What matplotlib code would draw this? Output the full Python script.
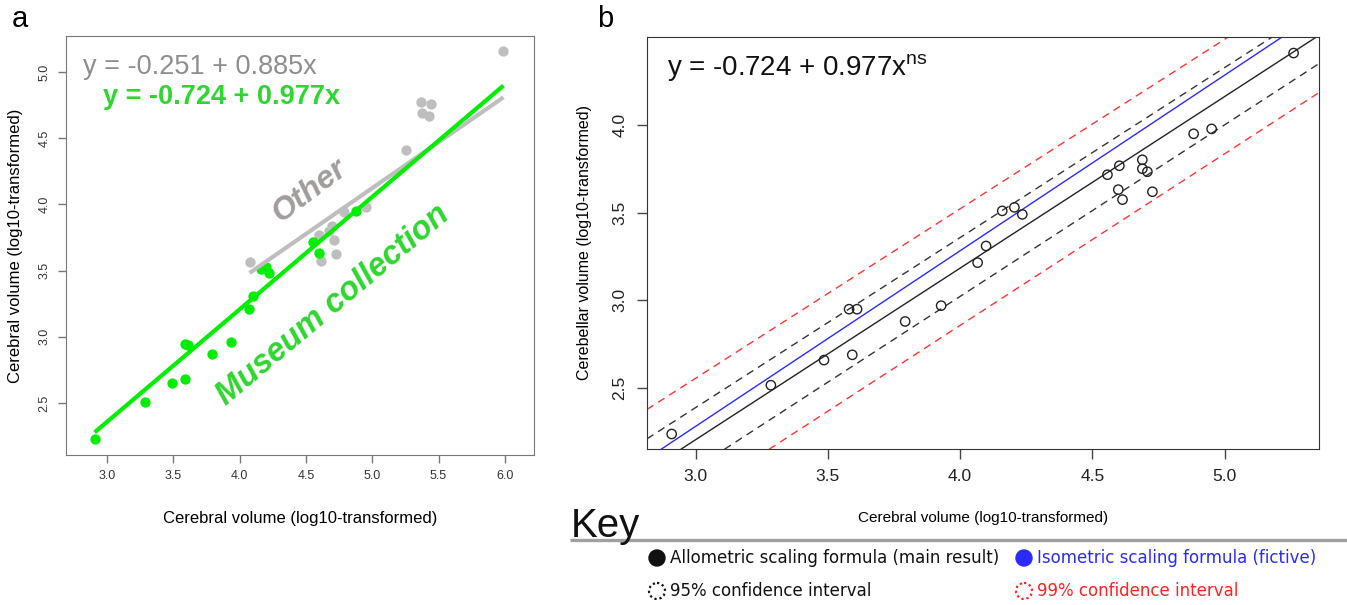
import matplotlib.pyplot as plt
import numpy as np
from matplotlib.patches import Circle

plt.rcParams['font.family'] = ['Liberation Sans', 'DejaVu Sans']

# Panel a: museum collection vs other specimens
museum_x = [2.906, 3.285, 3.488, 3.591, 3.584, 3.610, 3.794, 3.932, 4.068, 4.098,
            4.161, 4.200, 4.224, 4.555, 4.595, 4.879]
museum_y = [2.228, 2.505, 2.648, 2.684, 2.948, 2.940, 2.872, 2.963, 3.210, 3.308,
            3.512, 3.530, 3.482, 3.716, 3.633, 3.953]
other_x = [4.075, 4.600, 4.676, 4.700, 4.713, 4.726, 4.614, 4.786, 4.950, 5.255,
           5.365, 5.440, 5.378, 5.426, 5.990]
other_y = [3.565, 3.770, 3.795, 3.834, 3.730, 3.622, 3.575, 3.942, 3.978, 4.413,
           4.770, 4.760, 4.690, 4.665, 5.159]
# trend lines as drawn (intercept, slope)
museum_line = (-0.189, 0.849)
other_line = (0.660, 0.6925)
museum_eq = 'y = -0.724 + 0.977x'
other_eq = 'y = -0.251 + 0.885x'

# Panel b: cerebellar vs cerebral volume
cerebral = [2.909, 3.284, 3.485, 3.580, 3.610, 3.592, 3.792, 3.928, 4.066, 4.098,
            4.159, 4.205, 4.235, 4.557, 4.602, 4.598, 4.614, 4.689, 4.689, 4.708,
            4.727, 4.883, 4.951, 5.261]
cerebellar = [2.239, 2.517, 2.660, 2.950, 2.950, 2.690, 2.880, 2.970, 3.215, 3.310,
              3.510, 3.530, 3.490, 3.716, 3.767, 3.631, 3.574, 3.801, 3.750, 3.733,
              3.619, 3.949, 3.977, 4.409]
allometric = (-0.724, 0.977)
isometric = (-0.717, 1.0)
ci95 = [(-0.514, 0.968), (-0.885, 0.977)]
ci99 = [(-0.338, 0.965), (-1.050, 0.977)]

GREEN = '#00ee00'
GREEN_TXT = '#2fd62f'
GREY = '#bebebe'

fig = plt.figure(figsize=(13.47, 6.05), dpi=100)

# ---------------- panel a ----------------
ax_a = fig.add_axes([0.0490, 0.2479, 0.3474, 0.6926])
ax_a.scatter(other_x, other_y, s=55, color=GREY, linewidths=0, zorder=2)
ax_a.scatter(museum_x, museum_y, s=55, color=GREEN, linewidths=0, zorder=3)

all_x = museum_x + other_x
xs = np.array([min(all_x), max(all_x)])
ax_a.plot(xs, museum_line[0] + museum_line[1] * xs, color=GREEN, lw=3, zorder=4,
          solid_capstyle='butt')
xs = np.array([min(other_x), max(other_x)])
ax_a.plot(xs, other_line[0] + other_line[1] * xs, color=GREY, lw=3, zorder=3,
          solid_capstyle='butt')

ax_a.set_xlim(2.69, 6.22)
ax_a.set_ylim(2.107, 5.271)
ax_a.set_xticks(np.arange(3.0, 6.01, 0.5))
ax_a.set_yticks(np.arange(2.5, 5.01, 0.5))
ax_a.set_xticklabels([f'{v:.1f}' for v in np.arange(3.0, 6.01, 0.5)])
ax_a.set_yticklabels([f'{v:.1f}' for v in np.arange(2.5, 5.01, 0.5)],
                     rotation=90, va='center')
ax_a.tick_params(length=6, width=1, color='#777777', labelsize=9,
                 labelcolor='#333333', pad=5)
for sp in ax_a.spines.values():
    sp.set_color('#777777')
ax_a.set_xlabel('Cerebral volume (log10-transformed)', fontsize=12, labelpad=21)
ax_a.set_ylabel('Cerebral volume (log10-transformed)', fontsize=12, labelpad=11)

ax_a.text(0.037, 0.925, other_eq, transform=ax_a.transAxes, fontsize=19.5,
          color='#8e8e8e', va='center')
ax_a.text(0.078, 0.855, museum_eq, transform=ax_a.transAxes, fontsize=19.5,
          color=GREEN_TXT, fontweight='bold', va='center')
ax_a.text(4.53, 4.10, 'Other', fontsize=23, fontweight='bold', style='italic',
          color='#a29c9c', rotation=37, rotation_mode='anchor', ha='center',
          va='center')
ax_a.text(4.70, 3.24, 'Museum collection', fontsize=23.5, fontweight='bold',
          style='italic', color=GREEN_TXT, rotation=40, rotation_mode='anchor',
          ha='center', va='center')

fig.text(0.009, 0.955, 'a', fontsize=21)

# ---------------- panel b ----------------
ax_b = fig.add_axes([0.4803, 0.2574, 0.4989, 0.6819])
ax_b.axline((0, allometric[0]), slope=allometric[1], color='#222222', lw=1)
ax_b.axline((0, isometric[0]), slope=isometric[1], color='#2a2aff', lw=1)
for a, b in ci95:
    ax_b.axline((0, a), slope=b, color='#333333', lw=1, dashes=(5.5, 4))
for a, b in ci99:
    ax_b.axline((0, a), slope=b, color='#ff3333', lw=1, dashes=(5.5, 4))
ax_b.scatter(cerebral, cerebellar, s=45, facecolors='none', edgecolors='#222222',
             linewidths=1, zorder=5)

ax_b.set_xlim(2.8155, 5.357)
ax_b.set_ylim(2.152, 4.502)
ax_b.set_xticks(np.arange(3.0, 5.01, 0.5))
ax_b.set_yticks(np.arange(2.5, 4.01, 0.5))
ax_b.set_xticklabels([f'{v:.1f}' for v in np.arange(3.0, 5.01, 0.5)])
ax_b.set_yticklabels([f'{v:.1f}' for v in np.arange(2.5, 4.01, 0.5)],
                     rotation=90, va='center')
ax_b.tick_params(length=7, width=1, color='#444444', labelsize=12.5,
                 labelcolor='#222222', pad=7)
for sp in ax_b.spines.values():
    sp.set_color('#333333')
ax_b.set_xlabel('Cerebral volume (log10-transformed)', fontsize=11, labelpad=20)
ax_b.set_ylabel('Cerebellar volume (log10-transformed)', fontsize=11.5, labelpad=15)
ax_b.text(0.03, 0.925, 'y = -0.724 + 0.977x$^{\\mathregular{ns}}$',
          transform=ax_b.transAxes, fontsize=20, color='#111111', va='center')

fig.text(0.443, 0.955, 'b', fontsize=21)

# ---------------- key ----------------
key = fig.add_axes([0, 0, 1, 1])
key.set_xlim(0, 1347)
key.set_ylim(605, 0)
key.axis('off')
key.text(571, 537, 'Key', fontsize=29, color='#111111', ha='left', va='baseline',
         family=['Liberation Sans Narrow', 'Liberation Sans'])
key.plot([570, 1347], [540, 540], color='#a0a0a0', lw=2.4, solid_capstyle='butt')

key_items = [
    (657, 558, 'Allometric scaling formula (main result)', '#111111', '-'),
    (1024, 558, 'Isometric scaling formula (fictive)', '#2a2aff', '-'),
    (657, 591, '95% confidence interval', '#111111', ':'),
    (1024, 591, '99% confidence interval', '#ff2222', ':'),
]
for cx, cy, label, color, ls in key_items:
    if ls == '-':
        key.add_patch(Circle((cx, cy), 8, facecolor=color, edgecolor=color, lw=1))
    else:
        key.add_patch(Circle((cx, cy), 8, facecolor='none', edgecolor=color,
                             lw=1.6, linestyle=(0, (1, 1.3))))
    key.text(cx + 13, cy, label, fontsize=12, color=color, va='center',
             family='DejaVu Sans')

fig.savefig('out.png', dpi=100)
